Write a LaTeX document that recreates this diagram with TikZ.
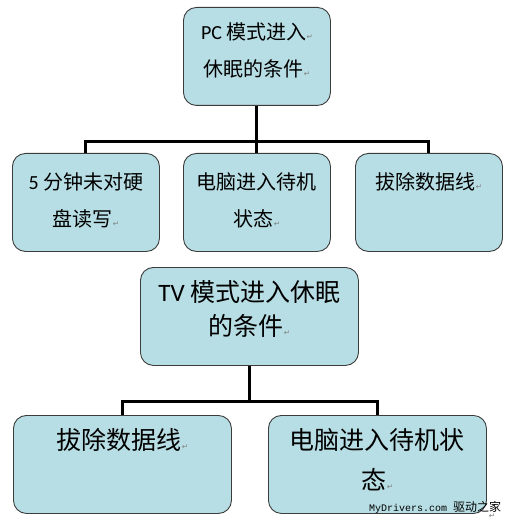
\documentclass[tikz,border=0pt]{standalone}
\usepackage{fontspec}
\setmainfont{Carlito}
\setmonofont{Liberation Mono}
\newfontfamily\cjk{Noto Sans CJK SC}
\newfontfamily\markfont{DejaVu Sans}
\usetikzlibrary{positioning,calc}
\definecolor{sleepfill}{RGB}{183,222,228}
\definecolor{sleepline}{RGB}{60,60,60}
\newcommand{\pmark}{{\markfont\fontsize{7.5}{7.5}\selectfont\textcolor{gray}{↵}}}

\begin{document}
\begin{tikzpicture}[
        x=1pt, y=-1pt,
        box/.style={rectangle, rounded corners=13pt, draw=sleepline, line width=0.9pt, fill=sleepfill, inner sep=0pt, anchor=north west},
        smallbox/.style={box, minimum width=147pt, minimum height=98pt},
        widebox/.style={box, minimum width=218pt, minimum height=98pt},
        smalltext/.style={align=center, inner sep=0pt, anchor=north, font=\fontsize{20}{37}\selectfont},
        widetext/.style={align=center, inner sep=0pt, anchor=north, font=\fontsize{25}{34}\selectfont},
        conn/.style={draw=black, line width=3pt}
    ]
        \useasboundingbox (0,0) rectangle (513,521);

        % PC mode: top box
        \node[smallbox] (pc) at (183,7) {};
        \node[smalltext] (pctxt) at ($(pc.north)+(0,16)$) {PC {\cjk 模式进入}\pmark\\{\cjk 休眠的条件}\pmark};

        % PC mode: conditions
        \node[smallbox] (disk) at (12,153) {};
        \node[smallbox] (standby) at (183,153) {};
        \node[smallbox] (cable) at (355,153) {};
        \node[smalltext] (disktxt) at ($(disk.north)+(0,19)$) {5 {\cjk 分钟未对硬}\\{\cjk 盘读写}\pmark};
        \node[smalltext] (standbytxt) at ($(standby.north)+(0,19)$) {{\cjk 电脑进入待机}\\{\cjk 状态}\pmark};
        \node[smalltext] (cabletxt) at ($(cable.north)+(0,19)$) {{\cjk 拔除数据线}\pmark};

        % TV mode: middle box
        \node[widebox] (tv) at (140,267) {};
        \node[widetext] (tvtxt) at ($(tv.north)+(0,13)$) {TV {\cjk 模式进入休眠}\\{\cjk 的条件}\pmark};

        % TV mode: conditions
        \node[widebox] (tvcable) at (13,415) {};
        \node[widebox] (tvstandby) at (268,415) {};
        \node[widetext, font=\fontsize{25}{40}\selectfont] (tvcabletxt) at ($(tvcable.north)+(0,13)$) {{\cjk 拔除数据线}\pmark};
        \node[widetext, font=\fontsize{25}{40}\selectfont] (tvstandbytxt) at ($(tvstandby.north)+(0,13)$) {{\cjk 电脑进入待机状}\\{\cjk 态}\pmark};

        % Connectors
        \coordinate (pcbus) at (pc.south |- 0,142);
        \coordinate (tvbus) at (tv.south |- 0,401);
        \draw[conn] (pc.south) -- (pcbus);
        \draw[conn] (pcbus) -| (disk.north);
        \draw[conn] (pcbus) -| (cable.north);
        \draw[conn] (pcbus) -- (standby.north);
        \draw[conn] (tv.south) -- (tvbus);
        \draw[conn] (tvbus) -| (tvcable.north);
        \draw[conn] (tvbus) -| (tvstandby.north);

        % Watermark
        \node[anchor=west, inner sep=0pt] (mark) at (369,507) {{\ttfamily\fontsize{10}{10}\selectfont MyDrivers.com}\hspace{6pt}{\cjk\fontsize{12}{12}\selectfont 驱动之家}};
        \node[inner sep=0pt] (markret) at (492,516) {\pmark};
    \end{tikzpicture}
\end{document}
